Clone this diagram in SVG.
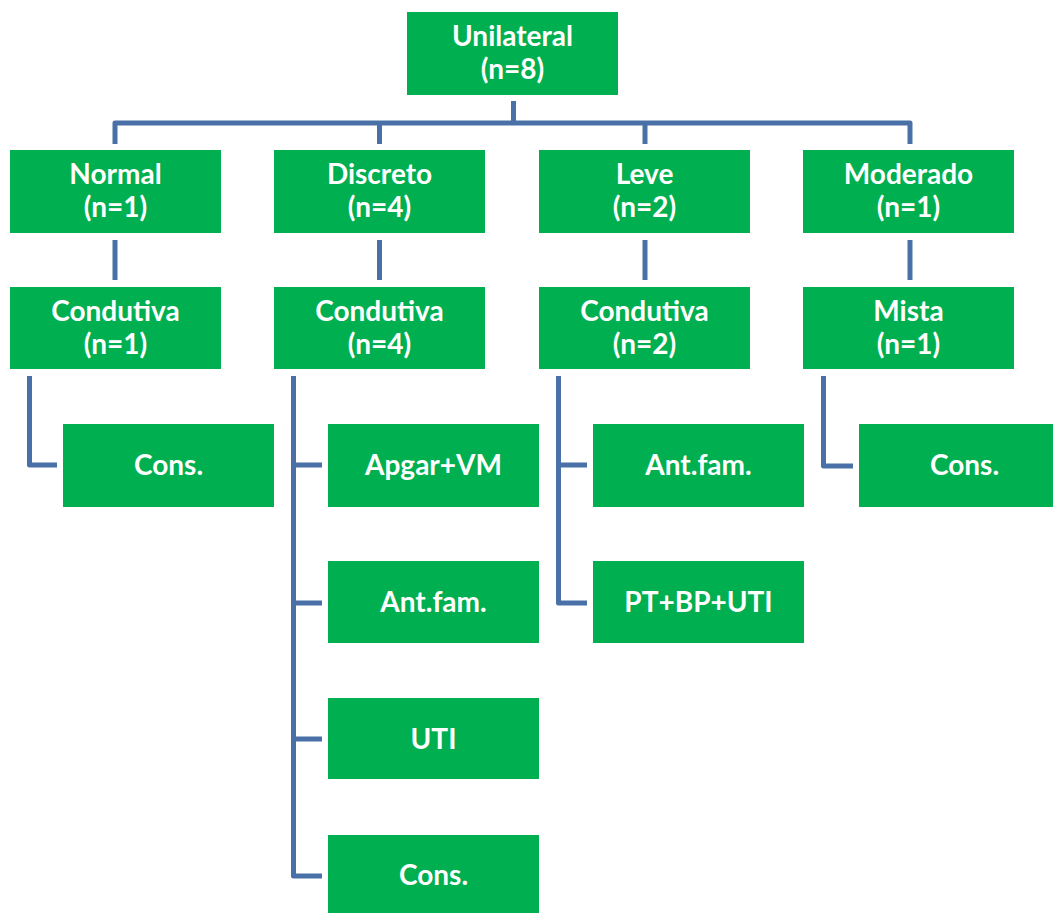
<svg xmlns="http://www.w3.org/2000/svg" width="1053" height="913" viewBox="0 0 1053 913">
<style>
.b{fill:#00B050;}
.t{fill:#fff;font-family:Lato,"Open Sans",sans-serif;font-weight:bold;font-size:28px;text-anchor:middle;}
.c{fill:none;stroke:#4A70A8;stroke-width:5;stroke-linejoin:round;stroke-linecap:butt;}
</style>
<rect width="1053" height="913" fill="#fff"/>
<g id="connectors">
<path class="c" d="M513.5 101V123M115 144V123H910V144"/>
<path class="c" d="M379.5 123V144"/>
<path class="c" d="M645 123V144"/>
<path class="c" d="M115 240V280M379.5 240V280M645 240V280M910 240V280"/>
<path class="c" d="M29.5 376V465H57"/>
<path class="c" d="M293.5 376V876H322M293.5 465H322M293.5 603H322M293.5 739H322"/>
<path class="c" d="M558.5 376V603H587M558.5 465H587"/>
<path class="c" d="M823.5 376V466H853"/>
</g>
<g id="n-unilateral"><rect class="b" x="407" y="12" width="211" height="83"/><text class="t" x="512.5" y="46">Unilateral</text><text class="t" x="512.5" y="79">(n=8)</text></g>
<g id="n-normal"><rect class="b" x="10" y="150" width="211" height="83"/><text class="t" x="115.5" y="184">Normal</text><text class="t" x="115.5" y="217">(n=1)</text></g>
<g id="n-discreto"><rect class="b" x="274" y="150" width="211" height="83"/><text class="t" x="379.5" y="184">Discreto</text><text class="t" x="379.5" y="217">(n=4)</text></g>
<g id="n-leve"><rect class="b" x="539" y="150" width="211" height="83"/><text class="t" x="644.5" y="184">Leve</text><text class="t" x="644.5" y="217">(n=2)</text></g>
<g id="n-moderado"><rect class="b" x="803" y="150" width="211" height="83"/><text class="t" x="908.5" y="184">Moderado</text><text class="t" x="908.5" y="217">(n=1)</text></g>
<g id="n-condutiva1"><rect class="b" x="10" y="287" width="211" height="82"/><text class="t" x="115.5" y="321">Condutiva</text><text class="t" x="115.5" y="354">(n=1)</text></g>
<g id="n-condutiva4"><rect class="b" x="274" y="287" width="211" height="82"/><text class="t" x="379.5" y="321">Condutiva</text><text class="t" x="379.5" y="354">(n=4)</text></g>
<g id="n-condutiva2"><rect class="b" x="539" y="287" width="211" height="82"/><text class="t" x="644.5" y="321">Condutiva</text><text class="t" x="644.5" y="354">(n=2)</text></g>
<g id="n-mista"><rect class="b" x="803" y="287" width="211" height="82"/><text class="t" x="908.5" y="321">Mista</text><text class="t" x="908.5" y="354">(n=1)</text></g>
<g id="n-cons1"><rect class="b" x="63" y="424" width="211" height="83"/><text class="t" x="168.5" y="475">Cons.</text></g>
<g id="n-apgar"><rect class="b" x="328" y="424" width="211" height="83"/><text class="t" x="433.5" y="475">Apgar+VM</text></g>
<g id="n-antfam1"><rect class="b" x="328" y="561" width="211" height="82"/><text class="t" x="433.5" y="612">Ant.fam.</text></g>
<g id="n-uti"><rect class="b" x="328" y="698" width="211" height="81"/><text class="t" x="433.5" y="749">UTI</text></g>
<g id="n-cons2"><rect class="b" x="328" y="835" width="211" height="83"/><text class="t" x="433.5" y="885">Cons.</text></g>
<g id="n-antfam2"><rect class="b" x="593" y="424" width="211" height="83"/><text class="t" x="698.5" y="475">Ant.fam.</text></g>
<g id="n-ptbputi"><rect class="b" x="593" y="561" width="211" height="82"/><text class="t" x="698.5" y="612">PT+BP+UTI</text></g>
<g id="n-cons3"><rect class="b" x="859" y="424" width="211" height="83"/><text class="t" x="964.5" y="475">Cons.</text></g>
</svg>
